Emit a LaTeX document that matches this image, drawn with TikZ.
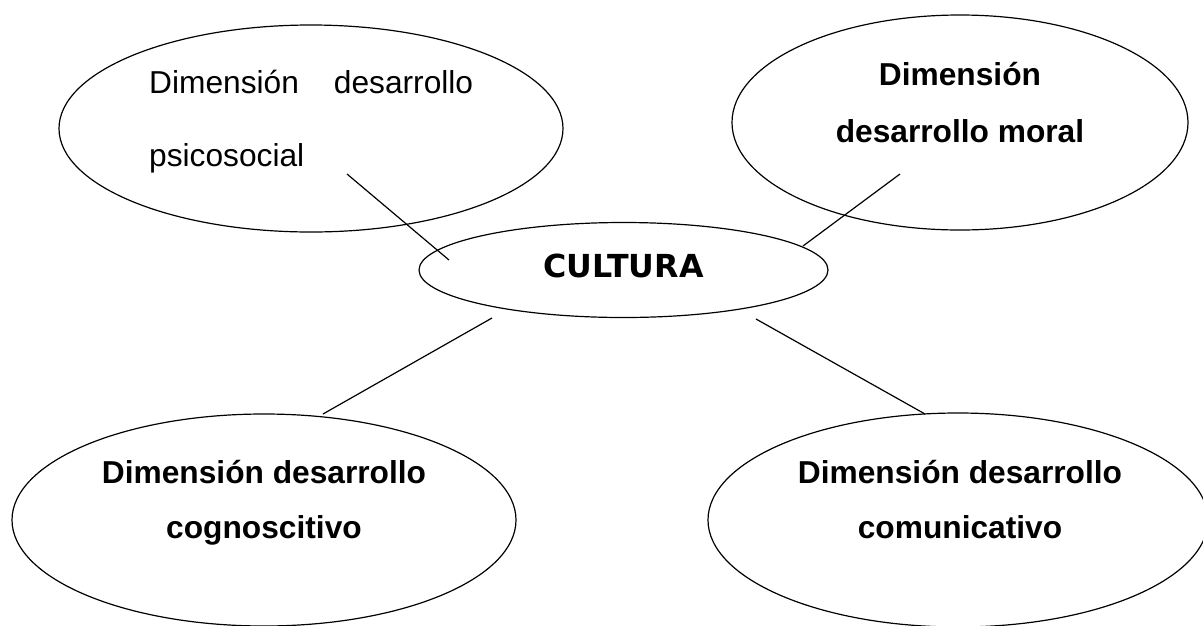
\documentclass[tikz,border=0pt]{standalone}
\usepackage{fontspec}
\setmainfont{Liberation Sans}
\newfontfamily\culturafont{DejaVu Sans}
\usepackage{tikz}
\usetikzlibrary{shapes,positioning}
\tikzset{
	dimnode/.style = {ellipse, draw=black, line width=1.2pt, inner sep=0pt},
	linetxt/.style = {anchor=base, inner sep=0pt, font=\fontsize{31.7}{38}\selectfont},
	linetxt_b/.style = {linetxt, font=\fontsize{31.7}{38}\selectfont\bfseries},
	linetxt_c/.style = {linetxt, font=\fontsize{31.7}{38}\selectfont\culturafont\bfseries},
	conn/.style = {line width=1.2pt}
}

\begin{document}
\begin{tikzpicture}[x=1pt, y=-1pt]
\useasboundingbox (0,0) rectangle (1203,625);
\clip (0,0) rectangle (1203,625);
% ellipses
\node [dimnode, minimum width=504pt, minimum height=207pt] (psico) at (311,128.5) {};
\node [dimnode, minimum width=456pt, minimum height=215pt] (moral) at (960,122.5) {};
\node [dimnode, minimum width=409pt, minimum height=95pt] (cultura) at (623.5,270) {};
\node [dimnode, minimum width=504pt, minimum height=212pt] (cogno) at (264,520) {};
\node [dimnode, minimum width=500pt, minimum height=214pt] (comun) at (958,520) {};
% texts
\node [linetxt, anchor=base west] (psico_l1) at (149,93) {\makebox[324pt][s]{Dimensión desarrollo}};
\node [linetxt, anchor=base west] (psico_l2) at (149,166) {psicosocial};
\node [linetxt_b] (moral_l1) at (960,85) {Dimensión};
\node [linetxt_b] (moral_l2) at (960,142) {desarrollo moral};
\node [linetxt_c] (cultura_l1) at (623.5,277) {CULTURA};
\node [linetxt_b] (cogno_l1) at (264,483) {Dimensión desarrollo};
\node [linetxt_b] (cogno_l2) at (264,538) {cognoscitivo};
\node [linetxt_b] (comun_l1) at (960,483) {Dimensión desarrollo};
\node [linetxt_b] (comun_l2) at (960,538) {comunicativo};
% connector ends
\coordinate (psico_in) at (347,174);
\coordinate (cult_nw) at (449,260);
\coordinate (moral_in) at (900,174);
\coordinate (cult_ne) at (803,246);
\coordinate (cult_sw) at (492,318);
\coordinate (cogno_top) at (323,414);
\coordinate (cult_se) at (756,319);
\coordinate (comun_top) at (925,414);
\draw [conn] (psico_in) -- (cult_nw);
\draw [conn] (moral_in) -- (cult_ne);
\draw [conn] (cult_sw) -- (cogno_top);
\draw [conn] (cult_se) -- (comun_top);
\end{tikzpicture}
\end{document}
